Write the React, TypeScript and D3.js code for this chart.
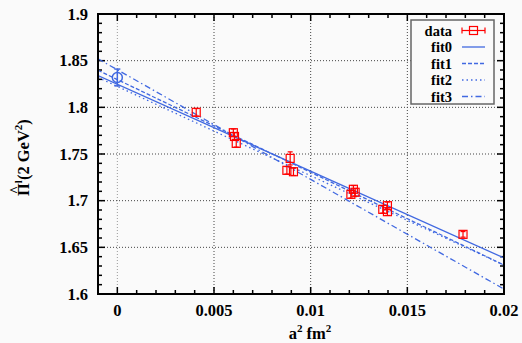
import React from "react";
import * as d3 from "d3";

const dataX = [0.00408, 0.00600, 0.00606, 0.00615, 0.00877, 0.00894, 0.00911, 0.01208, 0.01221, 0.0123, 0.01373, 0.01397, 0.01397, 0.01788];
const dataY = [1.7947, 1.7728, 1.7688, 1.7614, 1.7325, 1.7453, 1.731, 1.7068, 1.7122, 1.709, 1.6907, 1.6946, 1.6882, 1.6639];
const dataErr = [0.004, 0.004, 0.004, 0.004, 0.004, 0.007, 0.004, 0.004, 0.004, 0.004, 0.004, 0.004, 0.004, 0.003];
const extrapX = [0];
const extrapY = [1.832];
const extrapErr = [0.009];
const fitNames = ["fit0", "fit1", "fit2", "fit3"];
const fitLeft = [1.834, 1.8397, 1.832, 1.852];
const fitRight = [1.6386, 1.631, 1.631, 1.6053];
const xTicks = [0, 0.005, 0.01, 0.015, 0.02];
const xTickLabels = ["0", "0.005", "0.01", "0.015", "0.02"];
const yTicks = [1.6, 1.65, 1.7, 1.75, 1.8, 1.85, 1.9];
const yTickLabels = ["1.6", "1.65", "1.7", "1.75", "1.8", "1.85", "1.9"];

const W = 522, H = 343;
const L = 98, R = 504, T = 14, B = 294;
const FONT = "'Liberation Serif', 'DejaVu Serif', serif";
const BLUE = "#4169e1";
const RED = "#ff0000";
const dashes = ["", "4,2", "1.5,3", "6,3,1.5,3"];
const FS = 16.5;

export default function App() {
  const x = d3.scaleLinear().domain([-0.001, 0.02]).range([L, R]);
  const y = d3.scaleLinear().domain([1.6, 1.9]).range([B, T]);
  const xMinor = d3.range(-1, 21).map((i) => i * 0.001);
  const yMinor = d3.range(160, 191).map((i) => i / 100);
  const line = d3.line<[number, number]>().x((d) => x(d[0])).y((d) => y(d[1]));

  return (
    <svg width={W} height={H} style={{ position: "absolute", left: 0, top: 0, background: "#fafafa" }}>
      <rect x={0} y={0} width={W} height={H} fill="#fafafa" />
      {/* grid */}
      {xTicks.slice(0, -1).map((t, i) => (
        <line key={"gx" + i} x1={x(t)} x2={x(t)} y1={T} y2={B} stroke={i === 0 ? "#999" : "#444"} strokeWidth={1} strokeDasharray="1,2" />
      ))}
      {yTicks.slice(1, -1).map((t, i) => (
        <line key={"gy" + i} x1={L} x2={R} y1={y(t)} y2={y(t)} stroke="#444" strokeWidth={1} strokeDasharray="1,2" />
      ))}
      {/* ticks */}
      {xMinor.map((t, i) => {
        const major = Math.abs(Math.round(t / 0.005) * 0.005 - t) < 1e-9;
        const len = major ? 7 : 4;
        return (
          <g key={"xm" + i}>
            <line x1={x(t)} x2={x(t)} y1={B} y2={B - len} stroke="#000" strokeWidth={1.5} />
            <line x1={x(t)} x2={x(t)} y1={T} y2={T + len} stroke="#000" strokeWidth={1.5} />
          </g>
        );
      })}
      {yMinor.map((t, i) => {
        const major = i % 5 === 0;
        const len = major ? 7 : 4;
        return (
          <g key={"ym" + i}>
            <line x1={L} x2={L + len} y1={y(t)} y2={y(t)} stroke="#000" strokeWidth={1.5} />
            <line x1={R} x2={R - len} y1={y(t)} y2={y(t)} stroke="#000" strokeWidth={1.5} />
          </g>
        );
      })}
      {/* fits */}
      <clipPath id="clip"><rect x={L} y={T} width={R - L} height={B - T} /></clipPath>
      <g clipPath="url(#clip)">
        {fitNames.map((n, i) => (
          <path key={n} d={line([[-0.001, fitLeft[i]], [0.02, fitRight[i]]]) || ""} fill="none" stroke={BLUE} strokeWidth={1.3} strokeDasharray={dashes[i]} />
        ))}
      </g>
      {/* extrapolated point */}
      {extrapX.map((v, i) => (
        <g key={"e" + i} stroke={BLUE} strokeWidth={1.5} fill="none">
          <circle cx={x(v)} cy={y(extrapY[i])} r={5} />
          <line x1={x(v)} x2={x(v)} y1={y(extrapY[i] - extrapErr[i])} y2={y(extrapY[i] + extrapErr[i])} />
          <line x1={x(v) - 3} x2={x(v) + 3} y1={y(extrapY[i] - extrapErr[i])} y2={y(extrapY[i] - extrapErr[i])} />
          <line x1={x(v) - 3} x2={x(v) + 3} y1={y(extrapY[i] + extrapErr[i])} y2={y(extrapY[i] + extrapErr[i])} />
        </g>
      ))}
      {/* data */}
      {dataX.map((v, i) => {
        const cx = x(v), cy = y(dataY[i]);
        const y0 = y(dataY[i] - dataErr[i]), y1 = y(dataY[i] + dataErr[i]);
        return (
          <g key={"d" + i} stroke={RED} strokeWidth={1.2} fill="none">
            <rect x={cx - 4} y={cy - 4} width={8} height={8} />
            <line x1={cx} x2={cx} y1={y0} y2={y1} />
            <line x1={cx - 2.5} x2={cx + 2.5} y1={y0} y2={y0} />
            <line x1={cx - 2.5} x2={cx + 2.5} y1={y1} y2={y1} />
          </g>
        );
      })}
      {/* frame */}
      <rect x={L} y={T} width={R - L} height={B - T} fill="none" stroke="#000" strokeWidth={2} />
      {/* tick labels */}
      {xTicks.map((t, i) => (
        <text key={"xl" + i} x={x(t)} y={316} textAnchor="middle" fontFamily={FONT} fontWeight="bold" fontSize={FS}>{xTickLabels[i]}</text>
      ))}
      {yTicks.map((t, i) => (
        <text key={"yl" + i} x={88} y={y(t) + 5.5} textAnchor="end" fontFamily={FONT} fontWeight="bold" fontSize={FS}>{yTickLabels[i]}</text>
      ))}
      {/* axis labels */}
      <text x={310} y={339} textAnchor="middle" fontFamily={FONT} fontWeight="bold" fontSize={FS}>
        a<tspan dy={-7} fontSize={11}>2</tspan><tspan dy={7}> fm</tspan><tspan dy={-7} fontSize={11}>2</tspan>
      </text>
      <g transform={`translate(29,196) rotate(-90)`} fontFamily={FONT} fontWeight="bold">
        <text x={0} y={0} textAnchor="start" fontSize={FS}>
          Π<tspan dy={-7} fontSize={11}>l</tspan><tspan dy={7}>(2 GeV</tspan><tspan dy={-7} fontSize={11}>2</tspan><tspan dy={7}>)</tspan>
        </text>
        <text x={6} y={-9} textAnchor="middle" fontSize={14}>^</text>
      </g>
      {/* legend */}
      <rect x={411} y={20} width={83} height={84} fill="#fafafa" stroke="#666" strokeWidth={1.5} />
      {["data", ...fitNames].map((n, i) => {
        const cy = 30.5 + i * 16.5;
        return (
          <g key={"lg" + i}>
            <text x={452} y={cy + 5} textAnchor="end" fontFamily={FONT} fontWeight="bold" fontSize={14.5}>{n}</text>
            {i === 0 ? (
              <g stroke={RED} strokeWidth={1.2} fill="none">
                <line x1={462} x2={485} y1={cy} y2={cy} />
                <line x1={462} x2={462} y1={cy - 3} y2={cy + 3} />
                <line x1={485} x2={485} y1={cy - 3} y2={cy + 3} />
                <rect x={469.5} y={cy - 4} width={8} height={8} />
              </g>
            ) : (
              <line x1={462} x2={485} y1={cy} y2={cy} stroke={BLUE} strokeWidth={1.3} strokeDasharray={dashes[i - 1]} />
            )}
          </g>
        );
      })}
    </svg>
  );
}
